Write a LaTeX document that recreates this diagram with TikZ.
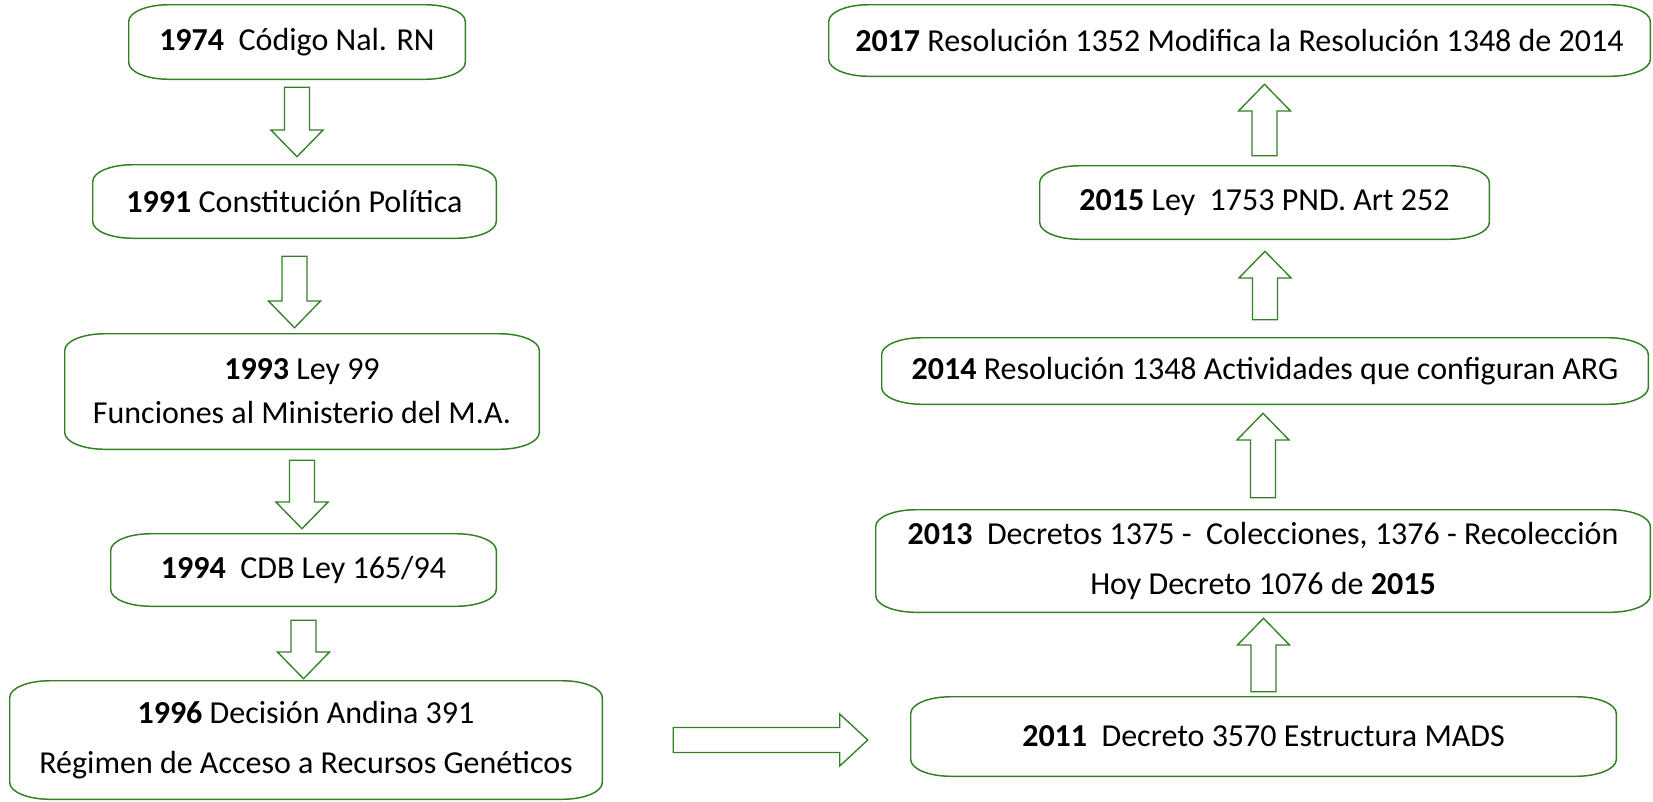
\documentclass[tikz,border=0pt]{standalone}
\usepackage{fontspec}
\setmainfont{Carlito}
\usetikzlibrary{calc}
\definecolor{lg}{RGB}{50,128,36}
\tikzset{
  box/.style={draw=none, inner sep=0pt, align=center, font=\fontsize{24}{29}\selectfont},
  boxline/.style={draw=lg, line width=1.1pt},
  arr/.style={draw=lg, line width=1pt, fill=white, line join=miter},
}
\newcommand\outl[1]{%
  \draw[boxline] ($(#1.north west)+(30pt,0)$) -- ($(#1.north east)+(-30pt,0)$)
    arc[start angle=90,end angle=0,x radius=30pt,y radius=12.5pt]
    -- ($(#1.south east)+(0,12.5pt)$)
    arc[start angle=0,end angle=-90,x radius=30pt,y radius=12.5pt]
    -- ($(#1.south west)+(30pt,0)$)
    arc[start angle=270,end angle=180,x radius=30pt,y radius=12.5pt]
    -- ($(#1.north west)+(0,-12.5pt)$)
    arc[start angle=180,end angle=90,x radius=30pt,y radius=12.5pt] -- cycle;}
\newcommand\mkbox[6]{%
  \node[box, minimum width={0.75pt*(#4-#2)}, minimum height={0.75pt*(#5-#3)}]
    (#1) at ({(#2+#4)/2},{-(#3+#5)/2}) {#6};
  \outl{#1}}
\newcommand\darrow[2]{%
  \draw[arr] let \p1=(#1),\p2=(#2) in
    (\x1-9.4pt,\y1) -- (\x1+9.4pt,\y1) -- (\x1+9.4pt,\y2+20pt) -- (\x1+19.5pt,\y2+20pt)
    -- (\x1,\y2) -- (\x1-19.5pt,\y2+20pt) -- (\x1-9.4pt,\y2+20pt) -- cycle;}
\newcommand\uarrow[2]{%
  \draw[arr] let \p1=(#1),\p2=(#2) in
    (\x1-9.4pt,\y1) -- (\x1+9.4pt,\y1) -- (\x1+9.4pt,\y2-20pt) -- (\x1+19.5pt,\y2-20pt)
    -- (\x1,\y2) -- (\x1-19.5pt,\y2-20pt) -- (\x1-9.4pt,\y2-20pt) -- cycle;}
\newcommand\rarrow[2]{%
  \draw[arr] let \p1=(#1),\p2=(#2) in
    (\x1,\y1-9.4pt) -- (\x1,\y1+9.4pt) -- (\x2-21pt,\y1+9.4pt) -- (\x2-21pt,\y1+19.5pt)
    -- (\x2,\y1) -- (\x2-21pt,\y1-19.5pt) -- (\x2-21pt,\y1-9.4pt) -- cycle;}
\begin{document}
\begin{tikzpicture}[x=0.75pt,y=0.75pt]
\useasboundingbox (0,0) rectangle (1653,-801);
% left column
\mkbox{b1}{129}{5}{465}{79}{\textbf{1974}~ Código Nal. RN}
\mkbox{b2}{93}{165}{496}{238}{\textbf{1991} Constitución Política}
\mkbox{b3}{65}{334}{539}{449}{\textbf{1993} Ley 99\\[4pt] Funciones al Ministerio del M.A.}
\mkbox{b4}{111}{534}{496}{606}{\textbf{1994}~ CDB Ley 165/94}
\mkbox{b5}{10}{681}{602}{799}{\textbf{1996} Decisión Andina 391\\[8.5pt] Régimen de Acceso a Recursos Genéticos}
% right column
\mkbox{r1}{829}{5}{1650}{76}{\textbf{2017} Resolución 1352 Modifica la Resolución 1348 de 2014}
\mkbox{r2}{1040}{166}{1489}{239}{\textbf{2015} Ley~ 1753 PND. Art 252}
\mkbox{r3}{882}{338}{1648}{404}{\textbf{2014} Resolución 1348 Actividades que configuran ARG}
\mkbox{r4}{876}{510}{1650}{612}{\textbf{2013}~ Decretos 1375 -~ Colecciones, 1376 - Recolección\\[8pt] Hoy Decreto 1076 de \textbf{2015}}
\mkbox{r5}{911}{697}{1616}{776}{\textbf{2011}~ Decreto 3570 Estructura MADS}
% left arrows
\foreach \a/\b/\g/\h in {b1/b2/8/8,b2/b3/18/6,b3/b4/11/5,b4/b5/14/2}{
  \coordinate (\a s) at ($(\a.south)+(0,-\g)$);
  \coordinate (\b n) at ($(\b.north)+(0,\h)$);
  \darrow{\a s}{\b n}
}
% right arrows
\foreach \a/\b/\g/\h in {r5/r4/5/6,r4/r3/12/9,r3/r2/18/12,r2/r1/10/8}{
  \coordinate (\a n) at ($(\a.north)+(0,\g)$);
  \coordinate (\b s) at ($(\b.south)+(0,-\h)$);
  \uarrow{\a n}{\b s}
}
% horizontal arrow
\coordinate (hs) at ($(b5.east)+(71,0)$);
\coordinate (he) at ($(r5.west)+(-43,0)$);
\rarrow{hs}{he}
\end{tikzpicture}
\end{document}
